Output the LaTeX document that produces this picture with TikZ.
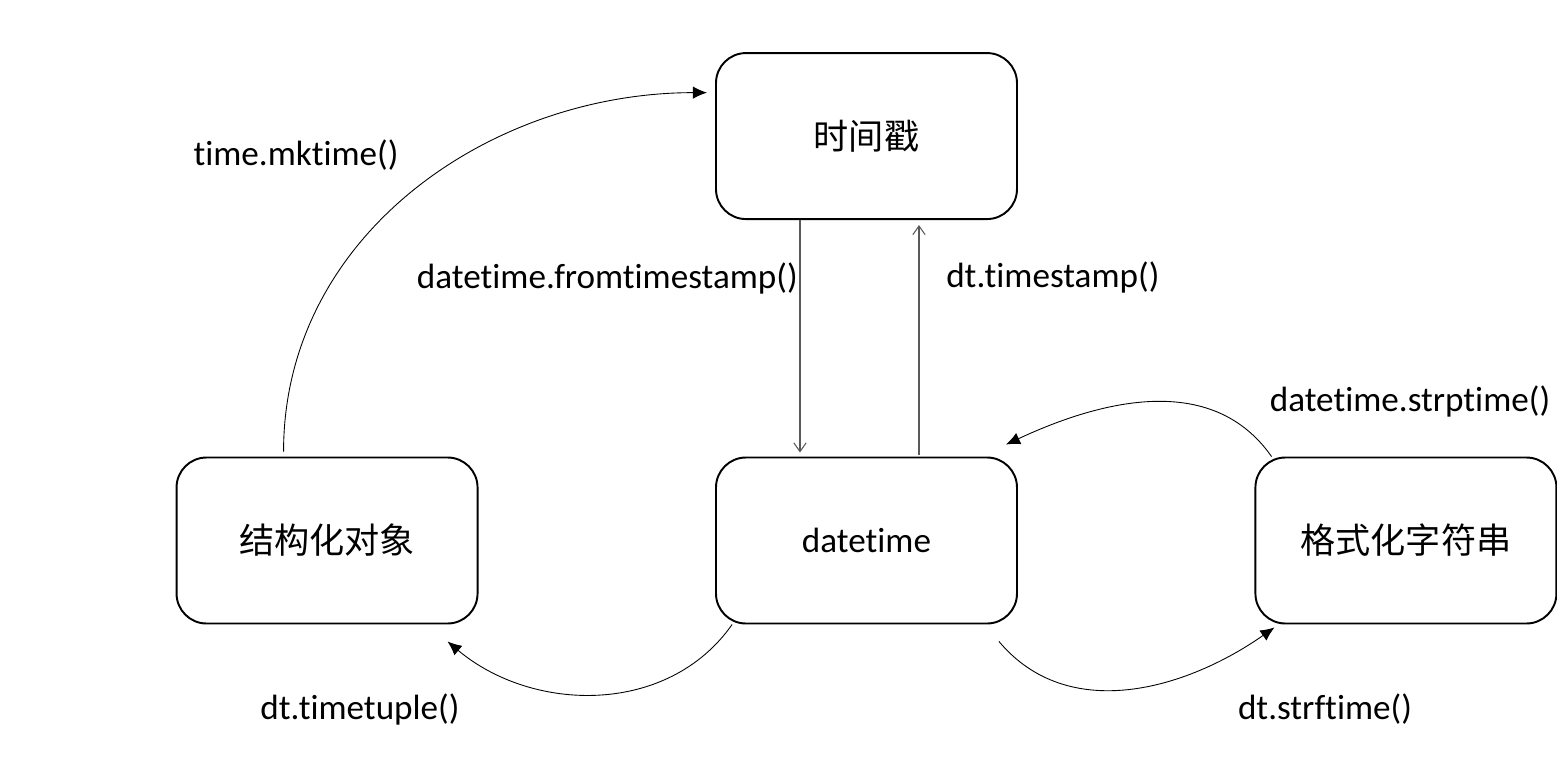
\documentclass[tikz,border=0pt]{standalone}
\usepackage{fontspec}
\setmainfont{Carlito}[Ligatures=NoCommon]
\newfontfamily\cjk{Noto Sans CJK SC}
\usepackage{tikz}
\usetikzlibrary{positioning}
\usetikzlibrary{shapes,arrows,arrows.meta}
\tikzstyle{block} = [rectangle, draw, line width=1.1pt, rounded corners=0.6cm,
    minimum width=6.02cm, minimum height=3.32cm, font=\fontsize{20}{24}\selectfont]
\tikzstyle{lbl} = [text=black, font=\fontsize{20}{24}\selectfont, inner sep=1pt]
\tikzstyle{line} = [draw, line width=0.5pt, -{Latex[length=8pt,width=7pt]}]
\tikzstyle{vline} = [draw, gray!70!black, line width=0.6pt, -{Straight Barb[length=5pt,width=7pt]}]

\begin{document}
\begin{tikzpicture}[node distance = 4.73cm, auto]
    \useasboundingbox (-17.33,-4.39) rectangle (13.81,10.81);
        % Nodes
    \node [block] (dt) {datetime};
    \node [block, above = of dt] (ts) {\cjk 时间戳};
    \node [block, left = of dt] (obj) {\cjk 结构化对象};
    \node [block, right = of dt] (str) {\cjk 格式化字符串};
    \node [lbl] (lmk) at (-11.41,7.71) {time.mktime()};
    \node [lbl] (lstrp) at (10.87,2.79) {datetime.strptime()};
    \node [lbl] (ltup) at (-10.13,-3.37) {dt.timetuple()};
    \node [lbl] (lstrf) at (9.17,-3.37) {dt.strftime()};
        % Edges
    \path [line] ([shift={(-0.87cm,0.1cm)}]obj.north) to [out=90, in=180] ([xshift=-0.16cm]ts.164);
    \path [vline] ([xshift=-1.33cm]ts.south) --node [lbl, pos=0.25, left=0pt] {datetime.fromtimestamp()} ([shift={(-1.33cm,0.08cm)}]dt.north);
    \path [vline] ([shift={(1.05cm,0.04cm)}]dt.north) --node [lbl, pos=0.77, right=0.5cm] {dt.timestamp()} ([shift={(1.05cm,-0.1cm)}]ts.south);
    \path [line] (str.148) to [out=125, in=25] ([shift={(-0.24cm,0.24cm)}]dt.north east);
    \path [line] (dt.212) to [out=-125, in=-40] ([shift={(-0.62cm,-0.34cm)}]obj.south east);
    \path [line] ([shift={(-0.38cm,-0.34cm)}]dt.south east) to [out=-50, in=-145] ([shift={(0.4cm,-0.06cm)}]str.south west);
\end{tikzpicture}
\end{document}
